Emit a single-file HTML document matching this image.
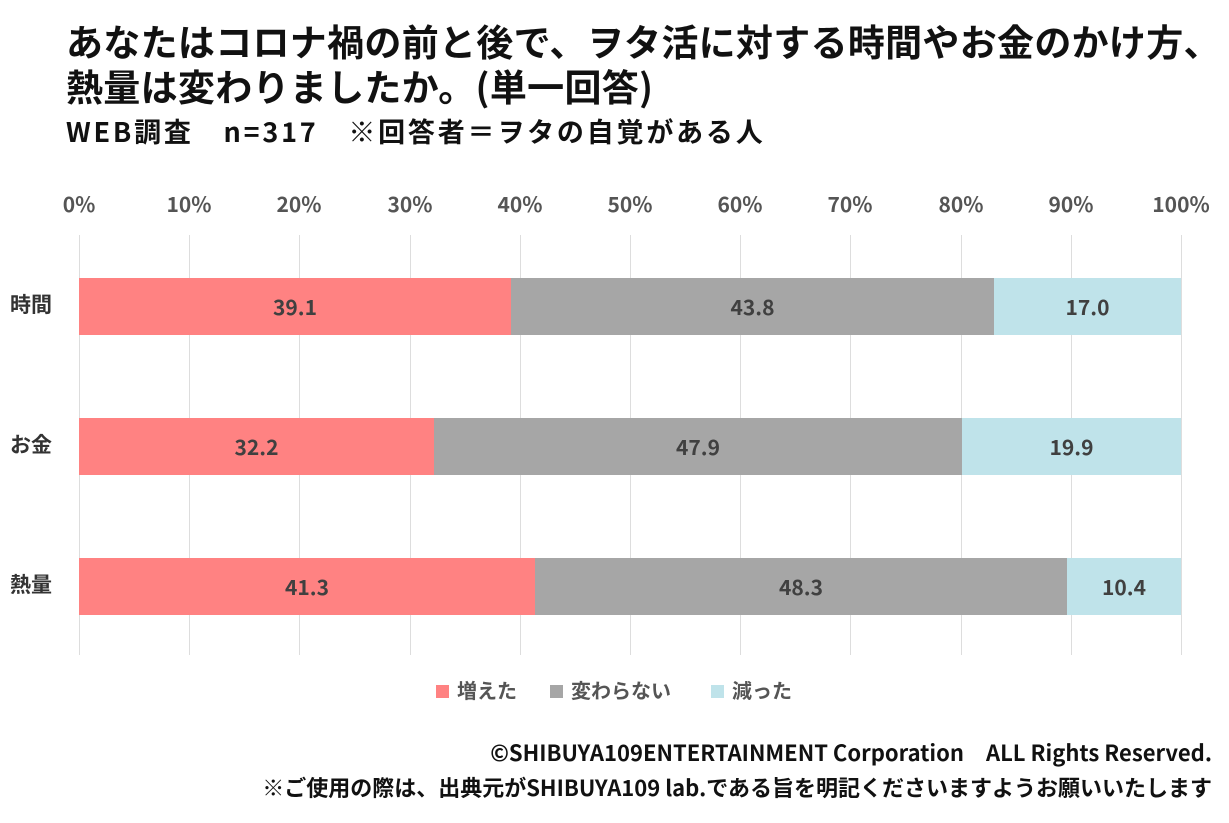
<!DOCTYPE html>
<html><head><meta charset="utf-8"><style>
body{margin:0;width:1229px;height:823px;background:#fff;font-family:"Noto Sans CJK JP","Liberation Sans",sans-serif;position:relative;overflow:hidden;color:#111}
.a{position:absolute;white-space:nowrap;line-height:1}
.t{font-weight:bold;font-size:37px;left:66px;color:#111;letter-spacing:0.3px}
.g{position:absolute;top:235px;height:420px;width:1px;background:#ddd}
.tk{position:absolute;top:192px;font-size:21px;line-height:1.2;color:#555;font-weight:bold;transform:translateX(-50%)}
.bar{position:absolute;height:57px;display:flex;align-items:center;justify-content:center;font-size:21px;font-weight:bold;color:#404040}
.cat{position:absolute;left:10px;font-size:21px;line-height:1.2;font-weight:bold;color:#333}
.lg{position:absolute;top:678px;font-size:20px;line-height:1.2;font-weight:bold;color:#555}
.sw{display:inline-block;width:13px;height:13px;margin-right:8px;vertical-align:0px}
.f{right:17px;font-size:22px;font-weight:bold;color:#111}
</style></head><body>
<div class="a t" style="top:22px">あなたはコロナ禍の前と後で、ヲタ活に対する時間やお金のかけ方、</div>
<div class="a t" style="top:67px">熱量は変わりましたか。(単一回答)</div>
<div class="a" style="left:66px;top:117px;font-size:27px;letter-spacing:2.8px;font-weight:bold">WEB調査　n=317　※回答者＝ヲタの自覚がある人</div>
<div class="g" style="left:79px"></div><div class="g" style="left:189px"></div><div class="g" style="left:299px"></div><div class="g" style="left:410px"></div><div class="g" style="left:520px"></div><div class="g" style="left:630px"></div><div class="g" style="left:740px"></div><div class="g" style="left:850px"></div><div class="g" style="left:961px"></div><div class="g" style="left:1071px"></div><div class="g" style="left:1181px"></div>
<div class="tk" style="left:79px">0%</div><div class="tk" style="left:189px">10%</div><div class="tk" style="left:299px">20%</div><div class="tk" style="left:410px">30%</div><div class="tk" style="left:520px">40%</div><div class="tk" style="left:630px">50%</div><div class="tk" style="left:740px">60%</div><div class="tk" style="left:850px">70%</div><div class="tk" style="left:961px">80%</div><div class="tk" style="left:1071px">90%</div><div class="tk" style="left:1181px">100%</div>
<div class="cat" style="top:292px">時間</div><div class="cat" style="top:432px">お金</div><div class="cat" style="top:572px">熱量</div>
<div class="bar" style="top:278px;left:79px;width:432px;background:#ff8282">39.1</div>
<div class="bar" style="top:278px;left:511px;width:483px;background:#a6a6a6">43.8</div>
<div class="bar" style="top:278px;left:994px;width:187px;background:#bfe3ea">17.0</div>
<div class="bar" style="top:418px;left:79px;width:355px;background:#ff8282">32.2</div>
<div class="bar" style="top:418px;left:434px;width:528px;background:#a6a6a6">47.9</div>
<div class="bar" style="top:418px;left:962px;width:219px;background:#bfe3ea">19.9</div>
<div class="bar" style="top:558px;left:79px;width:456px;background:#ff8282">41.3</div>
<div class="bar" style="top:558px;left:535px;width:532px;background:#a6a6a6">48.3</div>
<div class="bar" style="top:558px;left:1067px;width:114px;background:#bfe3ea">10.4</div>
<div class="lg" style="left:436px"><span class="sw" style="background:#ff8282"></span>増えた</div>
<div class="lg" style="left:550px"><span class="sw" style="background:#a6a6a6"></span>変わらない</div>
<div class="lg" style="left:711px"><span class="sw" style="background:#bfe3ea"></span>減った</div>
<div class="a f" style="top:741px">©SHIBUYA109ENTERTAINMENT Corporation　ALL Rights Reserved.</div>
<div class="a f" style="top:776px">※ご使用の際は、出典元がSHIBUYA109 lab.である旨を明記くださいますようお願いいたします</div>
</body></html>
